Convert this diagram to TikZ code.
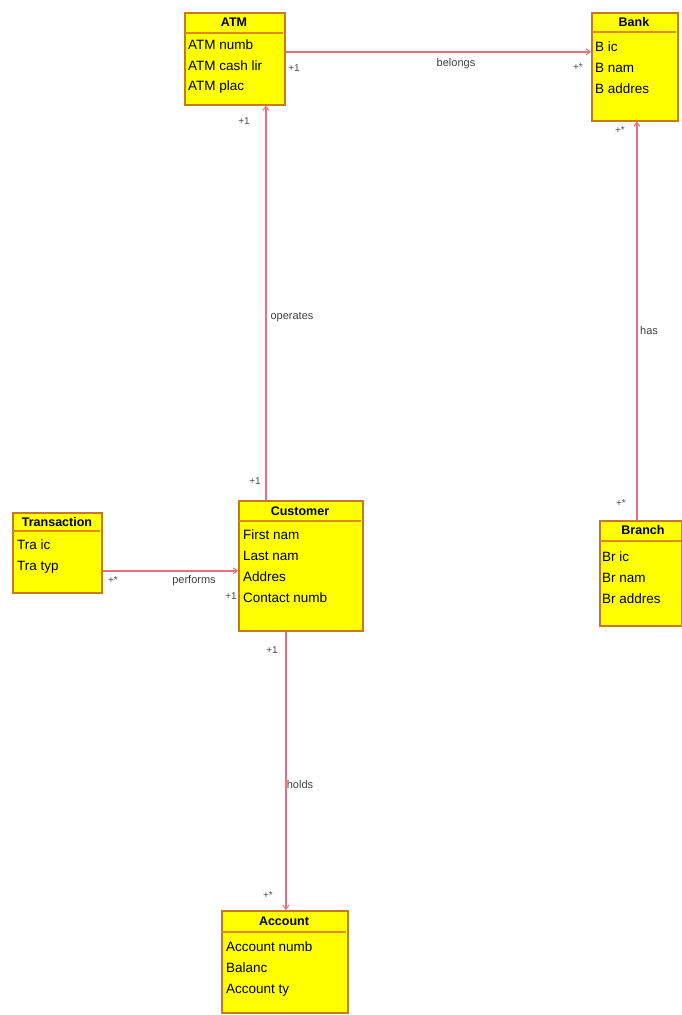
\documentclass[tikz,border=0pt]{standalone}
\usepackage{fontspec}
\setmainfont{Liberation Sans}
\usetikzlibrary{arrows.meta}
\definecolor{clsfill}{HTML}{FFFF00}
\definecolor{clsdraw}{HTML}{C8781E}
\definecolor{sepcol}{HTML}{E08A10}
\definecolor{linecol}{HTML}{E8707E}
\tikzset{
  cls/.style={draw=clsdraw, fill=clsfill, line width=1.6pt, anchor=north west, inner sep=0pt},
  sepline/.style={draw=sepcol, line width=1.2pt},
  ctitle/.style={font=\fontsize{12.5}{14}\selectfont\bfseries, inner sep=0pt},
  attr/.style={font=\fontsize{13.5}{15}\selectfont, anchor=west, inner sep=0pt},
  assoc/.style={draw=linecol, line width=1.4pt},
  navend/.style={-{Straight Barb[length=4pt,width=6pt,line width=1pt]}},
  mult/.style={font=\fontsize{10}{11}\selectfont, inner sep=0pt, text=black!70},
  alabel/.style={font=\fontsize{11}{12}\selectfont, inner sep=0pt, text=black!75}
}
\begin{document}
\begin{tikzpicture}[x=1pt,y=-1pt]
\useasboundingbox[fill=white] (0,0) rectangle (681,1015);

% ATM
\node[cls, minimum width=100pt, minimum height=92pt] (atm) at (184,12) {};
\draw[sepline] (185,33) -- (283,33);
\node[ctitle] (atmT) at (234,22) {ATM};
\node[attr] (atm1) at (188,45) {ATM numb};
\node[attr] (atm2) at (188,66) {ATM cash lir};
\node[attr] (atm3) at (188,87) {ATM plac};

% Bank
\node[cls, minimum width=86pt, minimum height=108pt] (bank) at (591,12) {};
\draw[sepline] (592,32) -- (676,32);
\node[ctitle] (bankT) at (634,22) {Bank};
\node[attr] (bank1) at (595,47) {B ic};
\node[attr] (bank2) at (595,68) {B nam};
\node[attr] (bank3) at (595,89) {B addres};

% Transaction
\node[cls, minimum width=89pt, minimum height=80pt] (tra) at (12,512) {};
\draw[sepline] (13,531) -- (100,531);
\node[ctitle] (traT) at (57,522) {Transaction};
\node[attr] (tra1) at (17,545) {Tra ic};
\node[attr] (tra2) at (17,567) {Tra typ};

% Customer
\node[cls, minimum width=124pt, minimum height=130pt] (cus) at (238,500) {};
\draw[sepline] (239,521) -- (361,521);
\node[ctitle] (cusT) at (300,511) {Customer};
\node[attr] (cus1) at (243,535) {First nam};
\node[attr] (cus2) at (243,556) {Last nam};
\node[attr] (cus3) at (243,577) {Addres};
\node[attr] (cus4) at (243,598) {Contact numb};

% Branch
\node[cls, minimum width=82pt, minimum height=105pt] (bra) at (599,520) {};
\draw[sepline] (600,541) -- (681,541);
\node[ctitle] (braT) at (643,530) {Branch};
\node[attr] (bra1) at (602,557) {Br ic};
\node[attr] (bra2) at (602,578) {Br nam};
\node[attr] (bra3) at (602,599) {Br addres};

% Account
\node[cls, minimum width=126pt, minimum height=102pt] (acc) at (221,910) {};
\draw[sepline] (222,932) -- (346,932);
\node[ctitle] (accT) at (284,921) {Account};
\node[attr] (acc1) at (226,947) {Account numb};
\node[attr] (acc2) at (226,968) {Balanc};
\node[attr] (acc3) at (226,990) {Account ty};

% Associations
\draw[assoc, navend] ([yshift=7pt]atm.east) -- ([yshift=15pt]bank.west);
\node[alabel] (lb1) at (456,64) {belongs};
\node[mult] (m1a) at (294,68) {+1};
\node[mult] (m1b) at (578,67) {+*};

\draw[assoc, navend] ([xshift=-35pt]cus.north) -- ([xshift=31pt]atm.south);
\node[alabel] (lb2) at (292,317) {operates};
\node[mult] (m2a) at (244,121) {+1};
\node[mult] (m2b) at (255,481) {+1};

\draw[assoc, navend] ([xshift=-4pt]bra.north) -- ([xshift=2pt]bank.south);
\node[alabel] (lb3) at (649,331) {has};
\node[mult] (m3a) at (620,130) {+*};
\node[mult] (m3b) at (621,503) {+*};

\draw[assoc, navend] ([yshift=-18pt]tra.east) -- ([yshift=-5pt]cus.west);
\node[alabel] (lb4) at (194,581) {performs};
\node[mult] (m4a) at (113,580) {+*};
\node[mult] (m4b) at (231,596) {+1};

\draw[assoc, navend] ([xshift=-15pt]cus.south) -- ([xshift=1pt]acc.north);
\node[alabel] (lb5) at (300,785) {holds};
\node[mult] (m5a) at (272,650) {+1};
\node[mult] (m5b) at (268,895) {+*};
\end{tikzpicture}
\end{document}
